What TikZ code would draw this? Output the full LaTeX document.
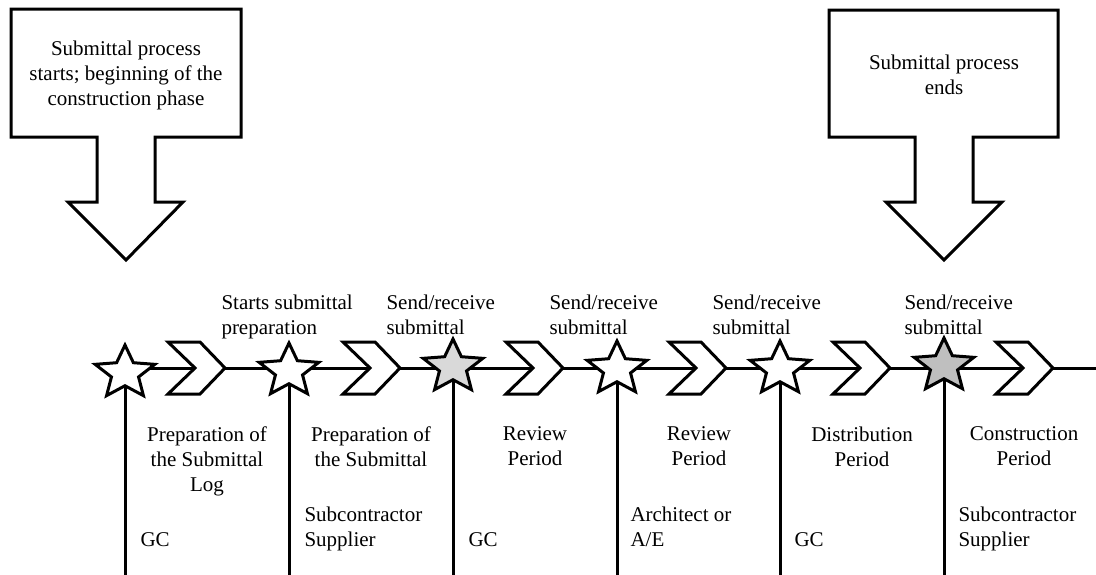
\documentclass[tikz,border=0pt]{standalone}
\usepackage{fontspec}
\setmainfont{Liberation Serif}
\usetikzlibrary{shapes.geometric}

\begin{document}
\begin{tikzpicture}[x=1pt,y=-1pt,
   line width=3pt, line join=miter,
   every node/.style={font=\fontsize{21}{25}\selectfont,inner sep=0pt},
   milestone/.style={star,star points=5,star point ratio=2.2,minimum size=56pt,draw,xscale=1.12,transform shape},
   chev/.style={draw,fill=white},
   toplabel/.style={anchor=north west,align=left},
   period/.style={anchor=north,align=center},
   party/.style={anchor=north west,align=left}]
\useasboundingbox (0,0) rectangle (1096,574);
\draw (97,137) -- (11,137) -- (11,9) -- (241,9) -- (241,137) -- (155,137) -- (155,202)
   -- (183,202) -- (126,260) -- (68,202) -- (97,202) -- cycle;
\draw (915,137) -- (829,137) -- (829,10) -- (1058,10) -- (1058,137) -- (973,137) -- (973,202)
   -- (1002,202) -- (944,260) -- (886,202) -- (915,202) -- cycle;
\node[align=center] (start) at (126,75) {Submittal process\\starts; beginning of the\\construction phase};
\node[align=center] (end) at (944,75) {Submittal process\\ends};
\coordinate (tl) at (110,368);
\coordinate (tr) at (1100,368);
\coordinate (bot) at (0,580);
\draw (tl) -- (tr);
\foreach \n/\x/\y in {1/125/373,2/289/371,3/453/367,4/617/369,5/780/369,6/944/366}
   {\coordinate (p\n) at (\x,\y);
    \draw (p\n) -- (p\n |- bot);}
\foreach \x in {225,400,563,726,890,1053}
   \draw[chev] (\x,368) -- ++(-25,-26) -- ++(-32,0) -- ++(27,26) -- ++(-27,26) -- ++(32,0) -- cycle;
\foreach \n/\c in {1/white,2/white,3/gray!30,4/white,5/white,6/gray!50}
   \node[milestone,fill=\c] (s\n) at (p\n) {};
\node[toplabel] (prep) at (220,293) {Starts submittal\\preparation};
\node[toplabel] (send1) at (385,293) {Send/receive\\submittal};
\node[toplabel] (send2) at (548,293) {Send/receive\\submittal};
\node[toplabel] (send3) at (711,293) {Send/receive\\submittal};
\node[toplabel] (send4) at (903,293) {Send/receive\\submittal};
\node[period] (log) at (207,425) {Preparation of\\the Submittal\\Log};
\node[period] (subm) at (371,425) {Preparation of\\the Submittal};
\node[period] (rev1) at (535,425) {Review\\Period};
\node[period] (rev2) at (699,425) {Review\\Period};
\node[period] (dist) at (862,425) {Distribution\\Period};
\node[period] (cons) at (1024,425) {Construction\\Period};
\node[party] (gc1) at (139,531) {GC};
\node[party] (sub1) at (303,505) {Subcontractor\\Supplier};
\node[party] (gc2) at (467,531) {GC};
\node[party] (arch) at (629,505) {Architect or\\A/E};
\node[party] (gc3) at (793,531) {GC};
\node[party] (sub2) at (957,505) {Subcontractor\\Supplier};
\end{tikzpicture}
\end{document}
